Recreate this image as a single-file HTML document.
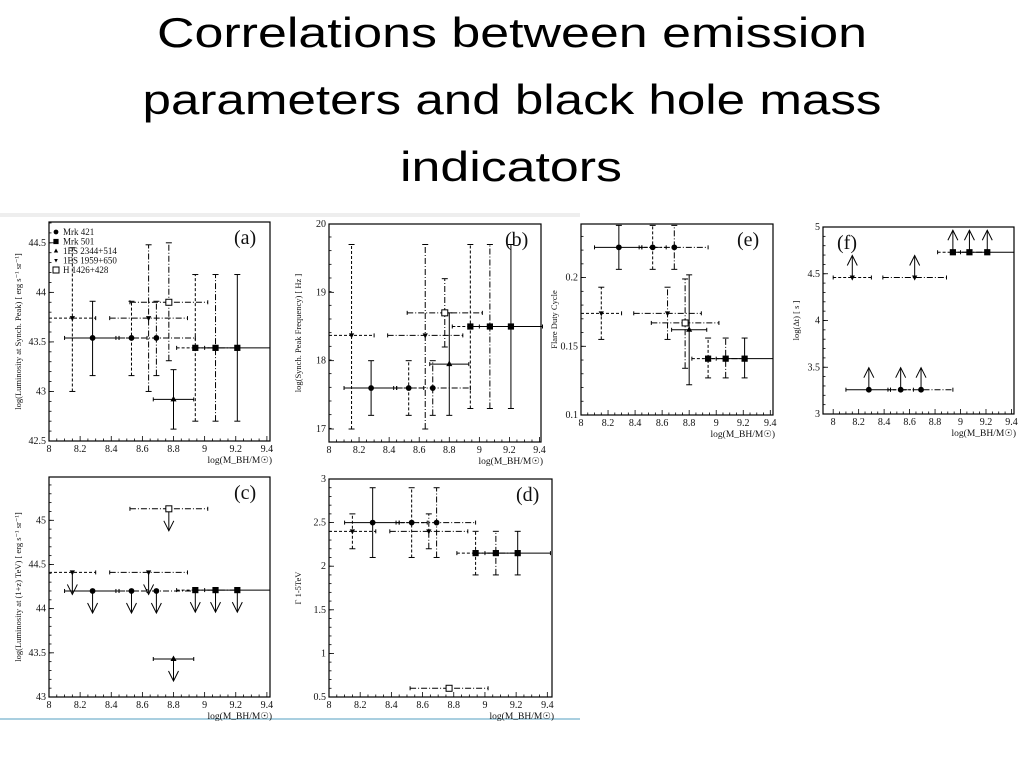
<!DOCTYPE html>
<html><head><meta charset="utf-8"><style>
html,body{margin:0;padding:0;background:#fff;}
svg{display:block;font-family:"Liberation Serif",serif;}
.t{font-family:"Liberation Sans",sans-serif;font-size:42px;fill:#000;}
</style></head><body>
<svg id="root" width="1024" height="768" viewBox="0 0 1024 768">
<text class="t" x="512" y="47" text-anchor="middle" textLength="710" lengthAdjust="spacingAndGlyphs">Correlations between emission</text>
<text class="t" x="512" y="114" text-anchor="middle" textLength="739" lengthAdjust="spacingAndGlyphs">parameters and black hole mass</text>
<text class="t" x="511" y="181" text-anchor="middle" textLength="222" lengthAdjust="spacingAndGlyphs">indicators</text>
<rect x="0" y="213" width="580" height="4" fill="#eee"/>
<line x1="0" y1="719" x2="580" y2="719" stroke="#a9cfe0" stroke-width="2"/>
<g id="plots"></g>
</svg>
<script>
// shared x data (log M_BH) for the 10 measurement points
const massX   = [8.28, 8.53, 8.69, 8.94, 9.07, 9.21, 8.80, 8.15, 8.64, 8.77];
const massLo  = [8.10, 8.43, 8.45, 8.82, 8.95, 9.00, 8.67, 8.00, 8.39, 8.52];
const massHi  = [8.45, 8.63, 8.94, 9.07, 9.20, 9.42, 8.93, 8.30, 8.89, 9.02];
const markers = ["circle","circle","circle","square","square","square","tri","dtri","dtri","open"];
const dashes  = ["","3,2","6,2,1,2","3,2","6,2,1,2","","","3,2","6,2,1,2","6,2,1,2"];
// panel a
const aY  = [43.54,43.54,43.54,43.44,43.44,43.44,42.92,43.74,43.74,43.90];
const aLo = [43.16,43.16,43.16,42.70,42.70,42.70,42.62,43.00,43.00,43.31];
const aHi = [43.91,43.91,43.91,44.18,44.18,44.18,43.22,44.45,44.48,44.50];
// panel b
const bY  = [17.6,17.6,17.6,18.5,18.5,18.5,17.95,18.37,18.37,18.7];
const bLo = [17.2,17.2,17.2,17.3,17.3,17.3,17.2,17.0,17.0,18.2];
const bHi = [18.0,18.0,18.0,19.7,19.7,19.7,18.7,19.7,19.7,19.2];
// panel c (upper limits)
const cY  = [44.20,44.20,44.20,44.21,44.21,44.21,43.43,44.41,44.41,45.13];
// panel d
const dY  = [2.5,2.5,2.5,2.15,2.15,2.15,null,2.4,2.4,0.6];
const dLo = [2.1,2.1,2.1,1.9,1.9,1.9,null,2.2,2.2,0.57];
const dHi = [2.9,2.9,2.9,2.4,2.4,2.4,null,2.6,2.6,0.63];
// panel e
const eY  = [0.222,0.222,0.222,0.141,0.141,0.141,0.162,0.174,0.174,0.167];
const eLo = [0.206,0.206,0.206,0.127,0.127,0.127,0.122,0.155,0.155,0.134];
const eHi = [0.238,0.238,0.238,0.156,0.156,0.156,0.202,0.193,0.193,0.199];
// panel f (lower limits)
const fY  = [3.26,3.26,3.26,4.73,4.73,4.73,null,4.46,4.46,null];
// tick labels
const xTicks = ["8","8.2","8.4","8.6","8.8","9","9.2","9.4"];
const aTicks = ["42.5","43","43.5","44","44.5"];
const bTicks = ["17","18","19","20"];
const cTicks = ["43","43.5","44","44.5","45"];
const dTicks = ["0.5","1","1.5","2","2.5","3"];
const eTicks = ["0.1","0.15","0.2"];
const fTicks = ["3","3.5","4","4.5","5"];
const legendNames = ["Mrk 421","Mrk 501","1ES 2344+514","1ES 1959+650","H 1426+428"];

const NS="http://www.w3.org/2000/svg";
const root=document.getElementById('plots');
function mk(tag,attrs,parent){const e=document.createElementNS(NS,tag);for(const k in attrs)e.setAttribute(k,attrs[k]);(parent||root).appendChild(e);return e;}

const panels=[
 {id:"a",L:49,R:270,T:222,B:441,x0:8,x1:9.42,y0:42.5,y1:44.71,ticks:aTicks,minor:0.1,Y:aY,Lo:aLo,Hi:aHi,label:"(a)",ylab:"log(Luminosity at Synch. Peak) [ erg s⁻¹ sr⁻¹]",legend:true},
 {id:"b",L:329,R:541,T:224,B:442,x0:8,x1:9.41,y0:16.81,y1:20,ticks:bTicks,minor:0.2,Y:bY,Lo:bLo,Hi:bHi,label:"(b)",ylab:"log(Synch. Peak Frequency) [ Hz ]"},
 {id:"c",L:49,R:270,T:477,B:697,x0:8,x1:9.42,y0:43,y1:45.49,ticks:cTicks,minor:0.1,Y:cY,lim:"down",label:"(c)",ylab:"log(Luminosity at (1+z) TeV) [ erg s⁻¹ sr⁻¹]"},
 {id:"d",L:329,R:552,T:479,B:697,x0:8,x1:9.43,y0:0.5,y1:3,ticks:dTicks,minor:0.1,Y:dY,Lo:dLo,Hi:dHi,label:"(d)",ylab:"Γ 1-5TeV"},
 {id:"e",L:581,R:773,T:224,B:415,x0:8,x1:9.42,y0:0.1,y1:0.239,ticks:eTicks,minor:0.01,Y:eY,Lo:eLo,Hi:eHi,label:"(e)",ylab:"Flare Duty Cycle"},
 {id:"f",L:823,R:1014,T:227,B:414,x0:7.92,x1:9.42,y0:3,y1:5,ticks:fTicks,minor:0.1,Y:fY,lim:"up",label:"(f)",ylab:"log(Δt) [ s ]"}
];

function marker(g,kind,x,y){
  if(kind==="circle")return mk('circle',{cx:x,cy:y,r:2.4,fill:'#000'},g);
  if(kind==="square")return mk('rect',{x:x-2.6,y:y-2.6,width:5.2,height:5.2,fill:'#000'},g);
  if(kind==="tri")return mk('polygon',{points:`${x},${y-2.5} ${x-2.2},${y+1.5} ${x+2.2},${y+1.5}`,fill:'#000'},g);
  if(kind==="dtri")return mk('polygon',{points:`${x},${y+2} ${x-1.8},${y-1.5} ${x+1.8},${y-1.5}`,fill:'#000'},g);
  return mk('rect',{x:x-3,y:y-3,width:6,height:6,fill:'#fff',stroke:'#000','stroke-width':1},g);
}

panels.forEach(p=>{
  const g=mk('g',{});
  
  
  const sx=v=>p.L+(v-p.x0)/(p.x1-p.x0)*(p.R-p.L);
  const sy=v=>p.B-(v-p.y0)/(p.y1-p.y0)*(p.B-p.T);
  const fr=mk('rect',{x:p.L,y:p.T,width:p.R-p.L,height:p.B-p.T,fill:'none',stroke:'#000','stroke-width':1.2},g);
  
  
  for(let v=8;v<=9.4001;v+=0.05){
    const maj=Math.abs(Math.round(v*5)-v*5)<1e-6;
    mk('line',{x1:sx(v),x2:sx(v),y1:p.B,y2:p.B-(maj?5:2.5),stroke:'#000','stroke-width':0.8},g);
  }
  xTicks.forEach(t=>{
    const tx=mk('text',{x:sx(parseFloat(t)),y:p.B+11,'font-size':10,'text-anchor':'middle',fill:'#111'},g);
    tx.textContent=t;
    
    
  });
  const xl=mk('text',{x:p.R+2,y:p.B+22,'font-size':9.5,'text-anchor':'end',fill:'#111'},g);
  xl.textContent='log(M_BH/M☉)';
  
  
  for(let v=p.y0;v<=p.y1+1e-9;v+=p.minor){
    mk('line',{x1:p.L,x2:p.L+2.5,y1:sy(v),y2:sy(v),stroke:'#000','stroke-width':0.8},g);
  }
  p.ticks.forEach(t=>{
    const v=parseFloat(t);
    mk('line',{x1:p.L,x2:p.L+5,y1:sy(v),y2:sy(v),stroke:'#000','stroke-width':0.8},g);
    const tx=mk('text',{x:p.L-3,y:sy(v)+3,'font-size':10,'text-anchor':'end',fill:'#111'},g);
    tx.textContent=t;
    
    
  });
  const cy=(p.T+p.B)/2, cx=p.L-(p.id==='e'||p.id==='f'?24:28);
  const yl=mk('text',{x:cx,y:cy,'font-size':8.5,'text-anchor':'middle',fill:'#111',transform:`rotate(-90 ${cx} ${cy})`},g);
  yl.textContent=p.ylab;
  
  
  const lb=mk('text',{x:p.R-(p.id==='f'?p.R-p.L-14:36),y:p.T+22,'font-size':20,fill:'#111'},g);
  lb.textContent=p.label;
  
  
  for(let i=0;i<massX.length;i++){
    const yv=p.Y[i]; if(yv==null) continue;
    const pg=mk('g',{stroke:'#000','stroke-width':1,fill:'none'},g);
    
    
    const X=sx(massX[i]),Yp=sy(yv);
    const da=dashes[i]?{'stroke-dasharray':dashes[i]}:{};
    mk('line',Object.assign({x1:sx(massLo[i]),x2:sx(massHi[i]),y1:Yp,y2:Yp},da),pg);
    mk('line',{x1:sx(massLo[i]),x2:sx(massLo[i]),y1:Yp-2,y2:Yp+2},pg);
    mk('line',{x1:sx(massHi[i]),x2:sx(massHi[i]),y1:Yp-2,y2:Yp+2},pg);
    if(p.Lo){
      const a=sy(p.Lo[i]),b=sy(p.Hi[i]);
      mk('line',Object.assign({x1:X,x2:X,y1:a,y2:b},da),pg);
      mk('line',{x1:X-3,x2:X+3,y1:a,y2:a},pg);
      mk('line',{x1:X-3,x2:X+3,y1:b,y2:b},pg);
    }
    if(p.lim){
      const d=p.lim==='down'?1:-1, len=22;
      const e=Yp+d*len;
      mk('line',{x1:X,x2:X,y1:Yp,y2:e},pg);
      mk('polyline',{points:`${X-5},${e-d*10} ${X},${e} ${X+5},${e-d*10}`},pg);
    }
    marker(pg,markers[i],X,Yp);
  }
  if(p.legend){
    const kinds=["circle","square","tri","dtri","open"];
    legendNames.forEach((n,k)=>{
      const ly=p.T+10+k*9.5;
      const lg=mk('g',{},g);
      
      
      marker(lg,kinds[k],p.L+7,ly);
      const tx=mk('text',{x:p.L+14,y:ly+3,'font-size':9,fill:'#111'},lg);
      tx.textContent=n;
    });
  }
});
</script>
</body></html>
